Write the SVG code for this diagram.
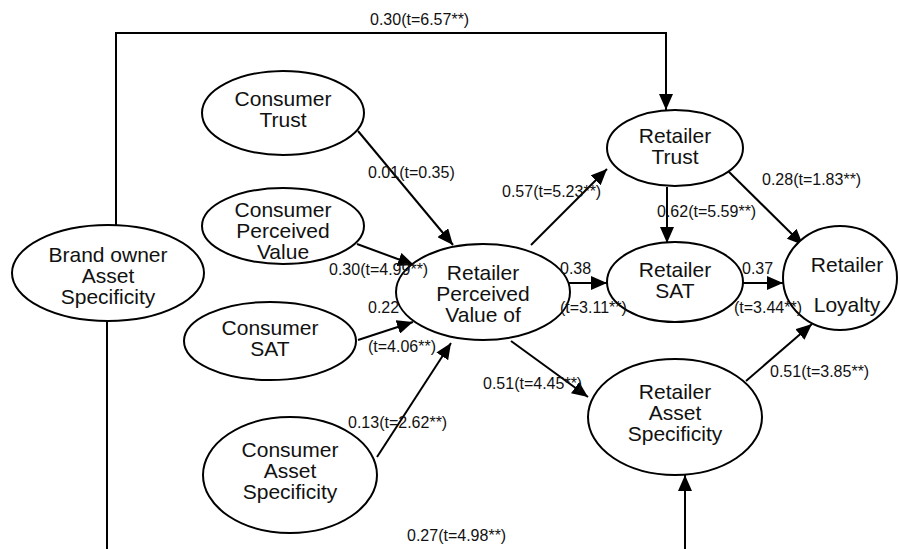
<svg xmlns="http://www.w3.org/2000/svg" width="900" height="549" viewBox="0 0 900 549">
<style>
.node ellipse{fill:#fff;stroke:#000;stroke-width:2}
.node text{font-family:"Liberation Sans",Arial,sans-serif;font-size:21px;text-anchor:middle;fill:#111}
.lbl{font-family:"Liberation Sans",Arial,sans-serif;font-size:16px;fill:#111}
.edge{fill:none;stroke:#000;stroke-width:2}
</style>
<defs>
<marker id="ah" viewBox="0 0 16 14" refX="16" refY="7" markerWidth="16" markerHeight="14" markerUnits="userSpaceOnUse" orient="auto">
<path d="M0,0 L16,7 L0,14 z" fill="#000"/>
</marker>
</defs>
<rect width="900" height="549" fill="#fff"/>
<g id="connectors">
<path class="edge" d="M116,225 L116,33 L666,33 L666,110" marker-end="url(#ah)"/>
<path class="edge" d="M107,322 L107,549"/>
<path class="edge" d="M685,549 L685,475" marker-end="url(#ah)"/>
<path class="edge" d="M358,131 L453,245" marker-end="url(#ah)"/>
<path class="edge" d="M357,244 L414,265" marker-end="url(#ah)"/>
<path class="edge" d="M358,340 L413,322" marker-end="url(#ah)"/>
<path class="edge" d="M377,457 L451,343" marker-end="url(#ah)"/>
<path class="edge" d="M531,245 L607,169" marker-end="url(#ah)"/>
<path class="edge" d="M569,283 L607,283" marker-end="url(#ah)"/>
<path class="edge" d="M511,341 L588,397" marker-end="url(#ah)"/>
<path class="edge" d="M667,187 L667,243" marker-end="url(#ah)"/>
<path class="edge" d="M725,168 L803,245" marker-end="url(#ah)"/>
<path class="edge" d="M743,283 L783,283" marker-end="url(#ah)"/>
<path class="edge" d="M746,381 L812,324" marker-end="url(#ah)"/>
</g>
<g id="n-brand" class="node">
<ellipse cx="108" cy="273" rx="96" ry="48"/>
<text x="108" y="262">Brand owner</text>
<text x="108" y="283">Asset</text>
<text x="108" y="304">Specificity</text>
</g>
<g id="n-ctrust" class="node">
<ellipse cx="283" cy="113" rx="81" ry="42"/>
<text x="283" y="106">Consumer</text>
<text x="283" y="127">Trust</text>
</g>
<g id="n-cpv" class="node">
<ellipse cx="283" cy="226" rx="81" ry="38"/>
<text x="283" y="217">Consumer</text>
<text x="283" y="238">Perceived</text>
<text x="283" y="259">Value</text>
</g>
<g id="n-csat" class="node">
<ellipse cx="270" cy="341" rx="86" ry="39"/>
<text x="270" y="335">Consumer</text>
<text x="270" y="356">SAT</text>
</g>
<g id="n-cas" class="node">
<ellipse cx="290" cy="475" rx="87" ry="58"/>
<text x="290" y="457">Consumer</text>
<text x="290" y="478">Asset</text>
<text x="290" y="499">Specificity</text>
</g>
<g id="n-rpv" class="node">
<ellipse cx="483" cy="292" rx="87" ry="48"/>
<text x="483" y="280">Retailer</text>
<text x="483" y="301">Perceived</text>
<text x="483" y="322">Value of</text>
</g>
<g id="n-rtrust" class="node">
<ellipse cx="675" cy="148" rx="68" ry="38"/>
<text x="675" y="143">Retailer</text>
<text x="675" y="164">Trust</text>
</g>
<g id="n-rsat" class="node">
<ellipse cx="675" cy="282" rx="68" ry="40"/>
<text x="675" y="277">Retailer</text>
<text x="675" y="298">SAT</text>
</g>
<g id="n-rloyal" class="node">
<ellipse cx="840" cy="278" rx="57" ry="52"/>
<text x="847" y="272">Retailer</text>
<text x="847" y="312">Loyalty</text>
</g>
<g id="n-ras" class="node">
<ellipse cx="675" cy="417" rx="87" ry="58"/>
<text x="675" y="399">Retailer</text>
<text x="675" y="420">Asset</text>
<text x="675" y="441">Specificity</text>
</g>
<g id="labels">
<text class="lbl" x="370" y="25">0.30(t=6.57**)</text>
<text class="lbl" x="368" y="178">0.01(t=0.35)</text>
<text class="lbl" x="502" y="197">0.57(t=5.23**)</text>
<text class="lbl" x="762" y="185">0.28(t=1.83**)</text>
<text class="lbl" x="657" y="217">0.62(t=5.59**)</text>
<text class="lbl" x="560" y="274">0.38</text>
<text class="lbl" x="560" y="313">(t=3.11**)</text>
<text class="lbl" x="742" y="274">0.37</text>
<text class="lbl" x="734" y="313">(t=3.44**)</text>
<text class="lbl" x="770" y="377">0.51(t=3.85**)</text>
<text class="lbl" x="483" y="389">0.51(t=4.45**)</text>
<text class="lbl" x="329" y="275">0.30(t=4.99**)</text>
<text class="lbl" x="368" y="313">0.22</text>
<text class="lbl" x="368" y="352">(t=4.06**)</text>
<text class="lbl" x="348" y="428">0.13(t=2.62**)</text>
<text class="lbl" x="407" y="541">0.27(t=4.98**)</text>
</g>
</svg>
